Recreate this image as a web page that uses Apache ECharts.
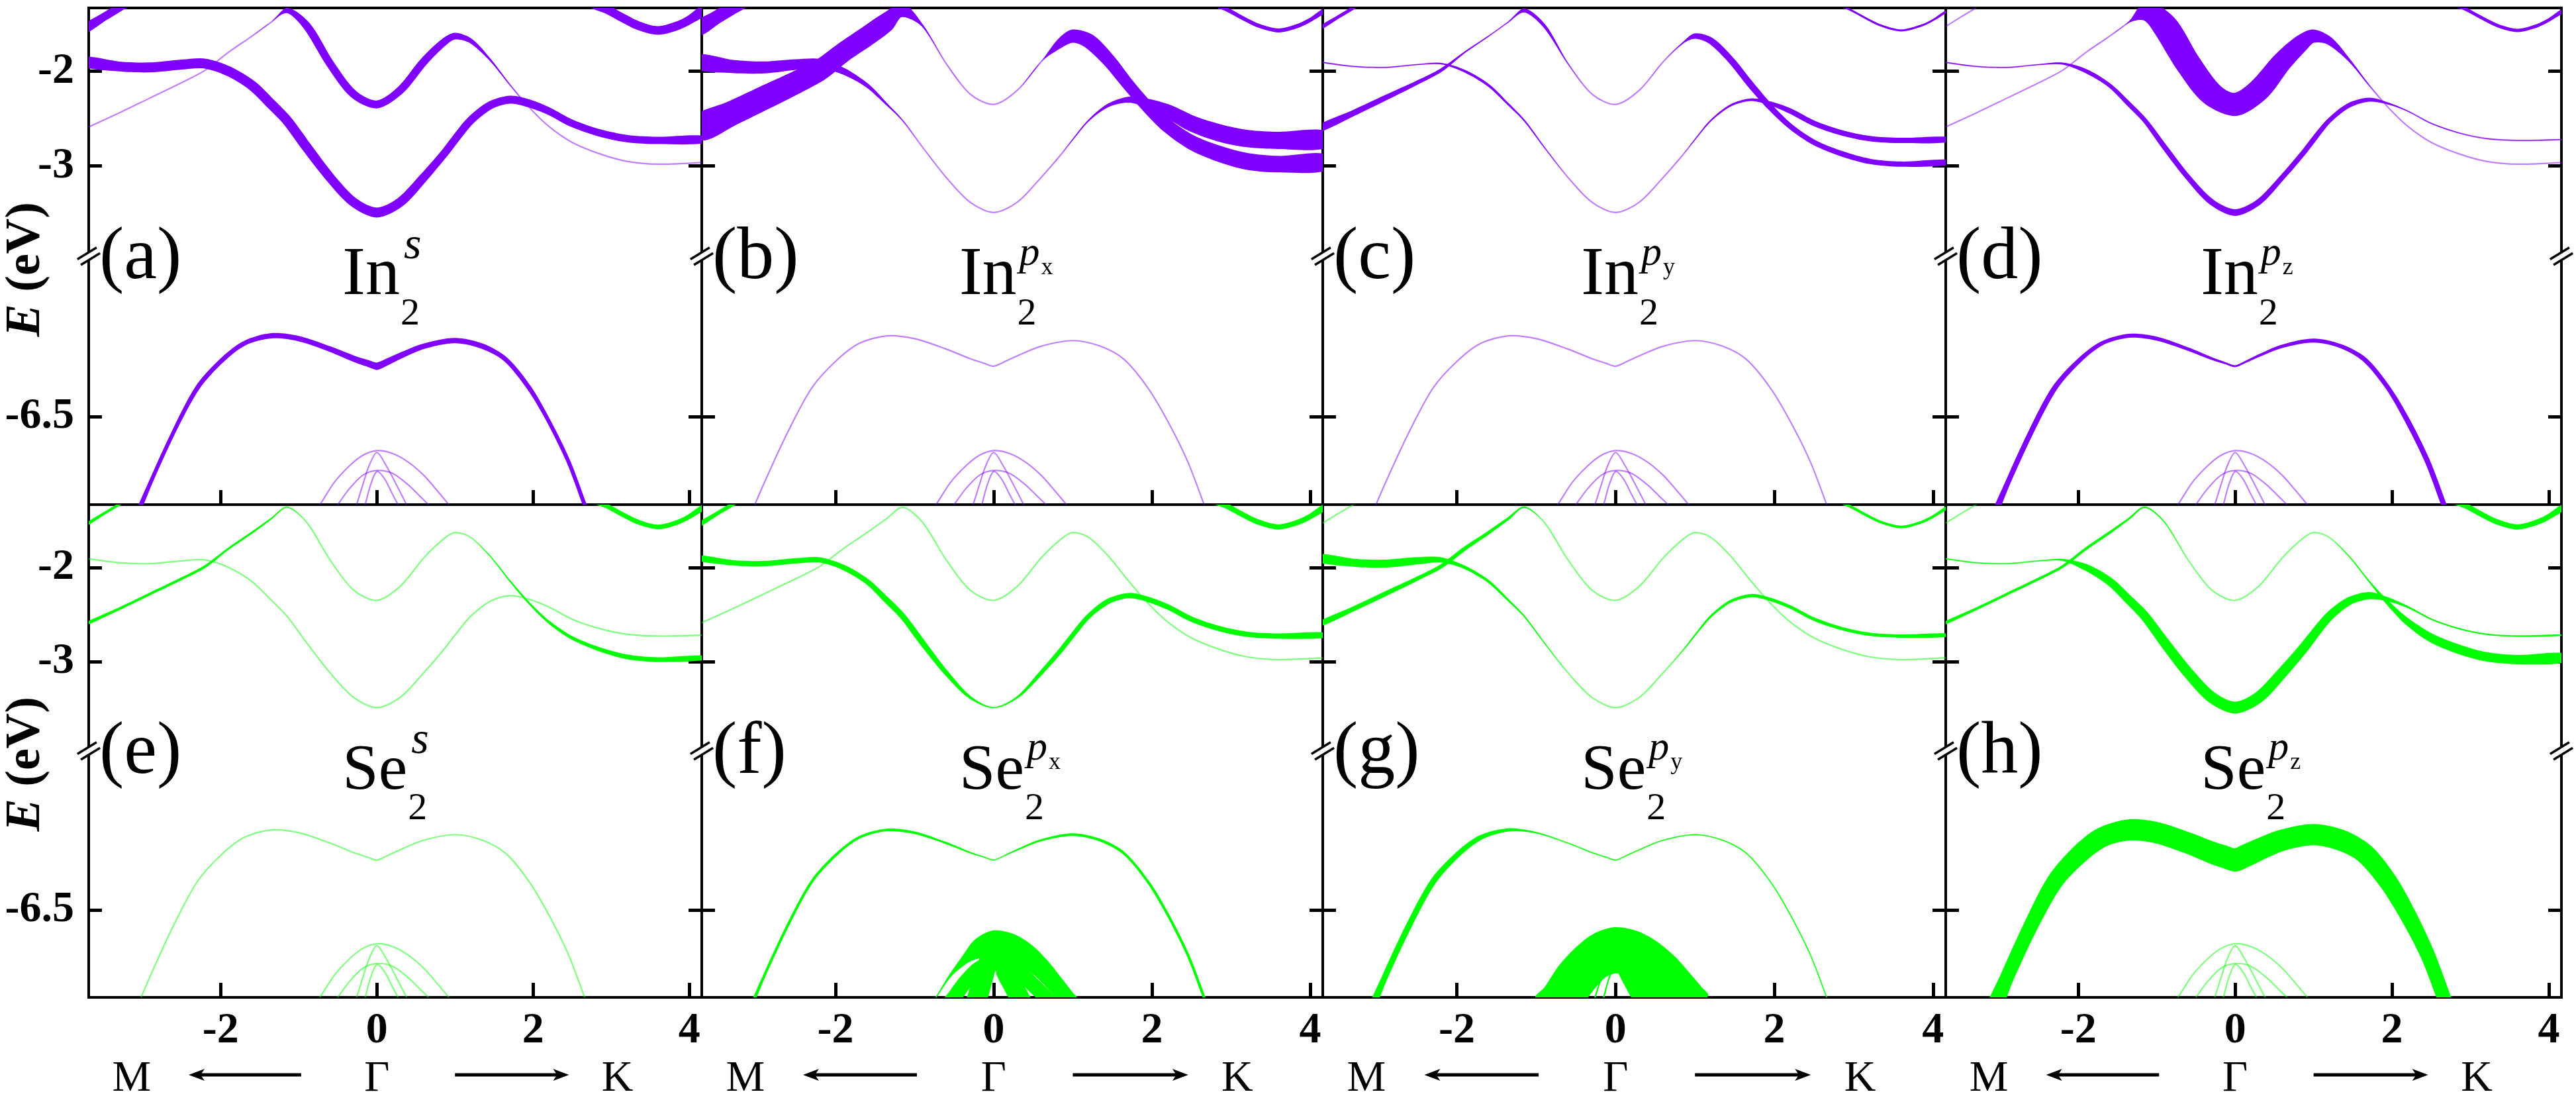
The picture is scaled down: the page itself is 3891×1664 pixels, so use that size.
<!DOCTYPE html>
<html><head><meta charset="utf-8">
<script src="https://cdn.jsdelivr.net/npm/echarts@6/dist/echarts.min.js"></script>
<style>html,body{margin:0;padding:0;background:#fff}#c{width:3891px;height:1664px}</style>
</head><body><div id="c"></div>
<script>
// ---------------- data ----------------
const PANEL_IDS = ['(a)','(b)','(c)','(d)','(e)','(f)','(g)','(h)'];
const ELEMENTS  = ['In','In','In','In','Se','Se','Se','Se'];
const ORBITALS  = ['s','px','py','pz','s','px','py','pz'];
const X_TICKS = [-2, 0, 2, 4];
const Y_TICKS = [-2, -3, -6.5];
const PATH_LABELS = ['M', 'Γ', 'K'];

// band k-points and energies (eV)
const K_MAIN = [-3.75,-3.3,-2.9,-2.5,-2.2,-1.9,-1.6,-1.35,-1.15,-0.9,-0.6,-0.3,0,0.3,0.6,0.85,1.0,1.2,1.45,1.71,1.95,2.2,2.5,2.85,3.2,3.6,4.2];
const E_B2 = [-2.61,-2.44,-2.28,-2.12,-1.99,-1.80,-1.63,-1.48,-1.36,-1.52,-1.92,-2.24,-2.35,-2.20,-1.90,-1.70,-1.63,-1.68,-1.88,-2.15,-2.38,-2.58,-2.75,-2.87,-2.95,-2.98,-2.96];
const E_B3 = [-1.90,-1.95,-1.96,-1.93,-1.92,-2.00,-2.15,-2.35,-2.52,-2.80,-3.12,-3.38,-3.49,-3.38,-3.12,-2.88,-2.72,-2.52,-2.36,-2.30,-2.34,-2.42,-2.55,-2.65,-2.71,-2.73,-2.72];
const K_B1L = [-3.75,-3.5,-3.3,-3.1];
const E_B1L = [-1.56,-1.43,-1.33,-1.22];
const K_B1R = [2.75,2.95,3.15,3.35,3.6,3.85,4.0,4.2];
const E_B1R = [-1.28,-1.35,-1.44,-1.52,-1.57,-1.52,-1.46,-1.35];
const K_B4 = [-3.15,-2.9,-2.6,-2.3,-2.0,-1.7,-1.35,-1.0,-0.6,-0.3,-0.12,0,0.12,0.3,0.6,1.0,1.35,1.65,1.95,2.2,2.45,2.66,2.8];
const E_B4 = [-7.69,-7.20,-6.66,-6.20,-5.92,-5.73,-5.65,-5.68,-5.79,-5.89,-5.94,-5.97,-5.93,-5.86,-5.76,-5.70,-5.76,-5.90,-6.20,-6.55,-6.97,-7.43,-7.75];
const K_D1 = [-0.85,-0.73,-0.55,-0.35,-0.18,0,0.2,0.4,0.6,0.78,0.92,1.0];
const E_D1 = [-7.55,-7.43,-7.20,-7.02,-6.91,-6.86,-6.89,-6.98,-7.12,-7.29,-7.43,-7.52];
const K_D2 = [-0.58,-0.5,-0.35,-0.18,0,0.2,0.4,0.55,0.66,0.74];
const E_D2 = [-7.53,-7.43,-7.26,-7.12,-7.07,-7.10,-7.22,-7.34,-7.43,-7.51];
const K_D3 = [-0.3,-0.26,-0.18,-0.1,0,0.12,0.25,0.38,0.42];
const E_D3 = [-7.52,-7.43,-7.22,-7.02,-6.88,-7.02,-7.22,-7.43,-7.50];
const K_D4 = [-0.19,-0.15,-0.08,0,0.1,0.2,0.27,0.31];
const E_D4 = [-7.53,-7.43,-7.22,-7.08,-7.16,-7.32,-7.43,-7.50];

// orbital weights (fat-band widths) per panel a..h; a single number = same along band
const W_B1L = [12, 20, 5, 1, 4, 6, 1, 1];
const W_B1R = [13, 6, 3, 5, 7, 8, 4, 8];
const W_B2 = [
  [0,0,0,0,0,0,0,0,8,12,12,12,12,12,12,11,10,7,3,1,0,0,0,0,0,0,0],
  [38,37,36,34,32,30,30,28,20,3,0,0,0,0,0,14,20,22,20,18,18,20,22,24,25,25,25],
  [10,9,8,6,5,2,1,1,6,5,1,0,0,0,0,2,8,10,10,10,9,8,8,8,8,8,8],
  [0,0,0,0,0,0,0,2,30,38,38,36,35,34,30,25,20,12,4,1,0,0,0,0,0,0,0],
  [4,4,4,4,4,3,3,2,1,0,0,0,0,0,0,0,0,0,1,2,3,4,5,6,7,7,7],
  1,
  [7,7,7,6,6,6,5,4,2,0,0,0,0,0,0,0,0,0,0,0,0,0,0,0,0,0,0],
  [4,4,4,4,4,4,4,3,2,1,0,0,0,0,0,0,0,0,1,2,6,10,13,14,14,14,14]
];
const W_B3 = [
  [15,15,15,15,15,15,15,15,15,15,14,14,15,14,13,12,12,12,12,12,12,11,11,11,11,11,11],
  [22,20,18,16,14,10,6,3,1,0,0,0,0,0,0,0,1,2,5,9,14,20,24,26,26,26,26],
  [1,1,1,1,2,4,4,3,2,1,0,0,0,0,0,0,1,2,3,4,6,8,8,8,8,8,8],
  [1,1,1,1,3,6,6,7,7,8,8,9,10,9,8,8,8,7,7,6,3,1,1,1,1,1,1],
  1,
  [8,8,8,8,8,8,8,9,9,9,7,4,1,3,6,7,7,7,8,8,8,8,8,8,8,8,8],
  [12,12,12,11,8,5,4,3,2,1,0,0,0,0,0,1,2,3,4,5,5,5,5,5,5,5,5],
  [1,1,1,1,3,10,12,13,14,15,16,17,18,17,16,15,14,13,12,11,6,3,2,2,2,2,2]
];
const W_B4 = [
  [6,6,6,7,7,7,8,8,8,9,10,11,10,9,8,8,8,7,7,6,6,6,6],
  1,
  1,
  [8,8,8,8,7,6,6,6,5,4,3,3,3,4,5,6,6,7,7,8,8,8,8],
  1,
  [4,4,4,4,4,4,4,4,3,2,1,1,1,2,3,4,4,4,4,4,4,4,4],
  [9,9,9,9,8,7,5,2,1,1,1,1,1,1,1,1,1,1,1,1,1,1,1],
  [20,21,22,25,28,30,32,32,32,33,34,35,34,33,32,32,32,30,28,25,22,21,20]
];
const W_D1 = [1, 1, 1, 1, 1, [1,1,4,14,30,40,40,36,30,26,24,24], 50, 1];
const W_D2 = [1, 1, 1, 1, 1, 22, 30, 1];
const W_D3 = [1, 1, 1, 1, 1, 18, [2,2,2,4,14,22,22,22,22], 1];
const W_D4 = [1, 1, 1, 1, 1, 18, [2,2,2,8,16,16,16,16], 1];

// ---------------- layout / style ----------------
const COL_X = [134, 1060, 1998, 2939, 3869];
const ROW_Y = [12, 762, 1506];
const X_MIN = -3.69, X_MAX = 4.16;
const Y_MIN = -7.43, Y_MAX = -1.333, BRK_LO = -4.81, BRK_HI = -3.95;
const PURPLE = '#8000ff', GREEN = '#00ff00';
const SERIF = '"Liberation Serif", "Times New Roman", serif';

const BANDS = [
  {k: K_B1L, e: E_B1L, w: W_B1L},
  {k: K_B1R, e: E_B1R, w: W_B1R},
  {k: K_MAIN, e: E_B2, w: W_B2},
  {k: K_MAIN, e: E_B3, w: W_B3},
  {k: K_B4, e: E_B4, w: W_B4},
  {k: K_D1, e: E_D1, w: W_D1},
  {k: K_D2, e: E_D2, w: W_D2},
  {k: K_D3, e: E_D3, w: W_D3},
  {k: K_D4, e: E_D4, w: W_D4}
];

function makeRender(panel, color) {
  return function (params, api) {
    const b = BANDS[api.value(2)];
    const wr = b.w[panel];
    const w = b.k.map((_, i) => Array.isArray(wr) ? wr[i] : wr);
    const pts = b.k.map((k, i) => api.coord([k, b.e[i]]));
    const children = [{
      type: 'polyline', shape: {points: pts, smooth: 0.3},
      style: {stroke: color, lineWidth: 2.2, opacity: 0.5, fill: null}
    }];
    if (Math.max.apply(null, w) > 1.5) {
      const up = [], dn = [];
      for (let i = 0; i < pts.length; i++) {
        const a = pts[Math.max(0, i - 1)], c = pts[Math.min(pts.length - 1, i + 1)];
        let tx = c[0] - a[0], ty = c[1] - a[1];
        const L = Math.hypot(tx, ty) || 1; tx /= L; ty /= L;
        const nx = -ty, ny = tx, h = w[i] / 2;
        up.push([pts[i][0] + nx * h, pts[i][1] + ny * h]);
        dn.push([pts[i][0] - nx * h, pts[i][1] - ny * h]);
      }
      children.push({type: 'polygon', shape: {points: up.concat(dn.reverse()), smooth: 0.3},
        style: {fill: color, stroke: null}});
    }
    const cs = params.coordSys;
    return {type: 'group', children,
      clipPath: {type: 'rect', shape: {x: cs.x, y: cs.y, width: cs.width, height: cs.height}}};
  };
}

const grids = [], xAxes = [], yAxes = [], series = [];
for (let i = 0; i < 8; i++) {
  const col = i % 4, row = Math.floor(i / 4);
  grids.push({left: COL_X[col], top: ROW_Y[row], width: COL_X[col + 1] - COL_X[col],
    height: ROW_Y[row + 1] - ROW_Y[row], show: true, borderColor: '#000', borderWidth: 4,
    containLabel: false, outerBoundsMode: 'none'});
  xAxes.push({gridIndex: i, type: 'value', min: X_MIN, max: X_MAX, position: 'bottom',
    axisLine: {show: false, onZero: false}, splitLine: {show: false},
    axisTick: {show: true, inside: true, length: 22, customValues: X_TICKS, lineStyle: {color: '#000', width: 5}},
    axisLabel: {show: row === 1, customValues: X_TICKS, margin: 18, color: '#000',
      fontFamily: SERIF, fontWeight: 'bold', fontSize: 66}});
  for (const pos of ['left', 'right']) {
    yAxes.push({gridIndex: i, type: 'value', position: pos, min: Y_MIN, max: Y_MAX,
      breaks: [{start: BRK_LO, end: BRK_HI, gap: 0}],
      breakArea: {show: false},
      axisLine: {show: false, onZero: false}, splitLine: {show: false},
      axisTick: {show: true, inside: true, length: 20, customValues: Y_TICKS, lineStyle: {color: '#000', width: 5}},
      axisLabel: {show: col === 0 && pos === 'left', customValues: Y_TICKS, margin: 22, color: '#000',
        fontFamily: SERIF, fontWeight: 'bold', fontSize: 66}});
  }
  series.push({type: 'custom', xAxisIndex: i, yAxisIndex: 2 * i,
    renderItem: makeRender(i, row === 0 ? PURPLE : GREEN),
    data: BANDS.map((_, j) => [0, -2, j]), silent: true, animation: false});
}

const chart = echarts.init(document.getElementById('c'), null, {renderer: 'canvas'});
chart.setOption({animation: false, backgroundColor: '#fff', grid: grids, xAxis: xAxes, yAxis: yAxes, series});

// ---------------- decorations ----------------
const ctx = document.createElement('canvas').getContext('2d');
function measure(t, font) { ctx.font = font; return ctx.measureText(t).width; }
function txt(x, y, text, font, align, extra) {
  return Object.assign({type: 'text', x, y, z: 100,
    style: {text, font, fill: '#000', align: align || 'left', verticalAlign: 'middle',
      textAlign: align || 'left', textVerticalAlign: 'middle'}}, extra || {});
}
const gr = [];
for (let i = 0; i < 8; i++) {
  const col = i % 4, row = Math.floor(i / 4);
  const P = (k, E) => chart.convertToPixel({xAxisIndex: i, yAxisIndex: 2 * i}, [k, E]);
  const bY = P(0, BRK_HI)[1], gx = P(0, BRK_HI)[0];
  const xl = COL_X[col];
  // panel tag
  gr.push(txt(xl + 16, bY + 4, PANEL_IDS[i], '112px ' + SERIF));
  // formula
  const fs = ELEMENTS[i] === 'In' ? 104 : 98;
  const mf = fs + 'px ' + SERIF;
  const x0 = gx - 52, mw = measure(ELEMENTS[i], mf);
  gr.push(txt(x0, bY + 65 - 0.3375 * fs, ELEMENTS[i], mf));
  gr.push(txt(x0 + mw + 1, bY + 108 - 0.3375 * 58, '2', '58px ' + SERIF));
  const orb = ORBITALS[i];
  if (orb === 's') {
    gr.push(txt(x0 + mw + 6, bY + 8 - 0.3375 * 68, 's', 'italic 68px ' + SERIF));
  } else {
    const pf = 'italic 62px ' + SERIF;
    gr.push(txt(x0 + mw + 4, bY + 18 - 0.3375 * 62, 'p', pf));
    gr.push(txt(x0 + mw + 4 + measure('p', pf) + 2, bY + 30 - 0.3375 * 36, orb[1], '36px ' + SERIF));
  }
  // path labels under bottom row
  if (row === 1) {
    const yL = 1630, yA = 1623;
    const pm = P(-3.14, -7)[0], pg = P(0, -7)[0], pk = P(3.08, -7)[0];
    gr.push(txt(pm, yL, PATH_LABELS[0], '66px ' + SERIF, 'center'));
    gr.push(txt(pg, yL, PATH_LABELS[1], '66px ' + SERIF, 'center'));
    gr.push(txt(pk, yL, PATH_LABELS[2], '66px ' + SERIF, 'center'));
    const a1 = P(-0.97, -7)[0], a2 = P(-2.41, -7)[0], b1 = P(1.0, -7)[0], b2 = P(2.46, -7)[0];
    gr.push({type: 'line', z: 100, shape: {x1: a1, y1: yA, x2: a2 + 16, y2: yA}, style: {stroke: '#000', lineWidth: 5}});
    gr.push({type: 'polygon', z: 100, shape: {points: [[a2, yA], [a2 + 24, yA - 9], [a2 + 18, yA], [a2 + 24, yA + 9]]}, style: {fill: '#000'}});
    gr.push({type: 'line', z: 100, shape: {x1: b1, y1: yA, x2: b2 - 16, y2: yA}, style: {stroke: '#000', lineWidth: 5}});
    gr.push({type: 'polygon', z: 100, shape: {points: [[b2, yA], [b2 - 24, yA - 9], [b2 - 18, yA], [b2 - 24, yA + 9]]}, style: {fill: '#000'}});
  }
}
// axis break marks on every vertical border
for (let row = 0; row < 2; row++) {
  const bY = chart.convertToPixel({xAxisIndex: row * 4, yAxisIndex: row * 8}, [0, BRK_HI])[1];
  for (const x of COL_X) {
    gr.push({type: 'group', x, y: bY, rotation: 0.55, z: 110, children: [
      {type: 'rect', shape: {x: -17, y: -5, width: 34, height: 10}, style: {fill: '#fff'}},
      {type: 'line', shape: {x1: -17, y1: -5, x2: 17, y2: -5}, style: {stroke: '#000', lineWidth: 3.5}},
      {type: 'line', shape: {x1: -17, y1: 5, x2: 17, y2: 5}, style: {stroke: '#000', lineWidth: 3.5}}
    ]});
  }
  gr.push({type: 'text', x: 40, y: bY + 20, rotation: Math.PI / 2, z: 100,
    style: {text: '{e|E} {n|(eV)}', align: 'center', verticalAlign: 'middle', textAlign: 'center', textVerticalAlign: 'middle',
      fill: '#000', fontFamily: 'Liberation Serif', fontWeight: 'bold', fontSize: 74,
      rich: {e: {fontFamily: 'Liberation Serif', fontStyle: 'italic', fontWeight: 'bold', fontSize: 74, fill: '#000'},
             n: {fontFamily: 'Liberation Serif', fontWeight: 'bold', fontSize: 74, fill: '#000'}}}});
}
chart.setOption({graphic: {elements: gr}});
</script></body></html>
